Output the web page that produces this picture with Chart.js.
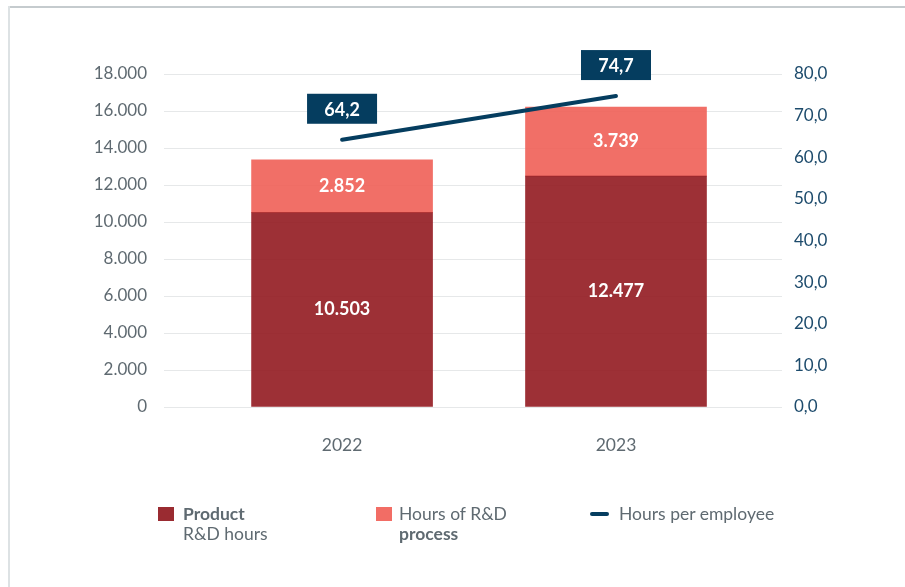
<!DOCTYPE html>
<html>
<head>
<meta charset="utf-8">
<script src="https://cdn.jsdelivr.net/npm/chart.js@4"></script>
<style>
  body { margin: 0; background: #fff; font-family: Lato, "Noto Sans", sans-serif; }
  #wrap { position: relative; width: 905px; height: 587px; overflow: hidden; }
  #frameTop { position: absolute; left: 8px; top: 6px; width: 897px; height: 2px; background: #c5cbce; }
  #frameLeft { position: absolute; left: 8px; top: 6px; width: 2px; height: 581px; background: #dde2e4; }
  canvas { position: absolute; left: 0; top: 0; }
  .leg { position: absolute; color: #5f6a71; font-size: 17.5px; line-height: 20px; }
  .sw { position: absolute; }
</style>
</head>
<body>
<div id="wrap">
  <div id="frameTop"></div>
  <div id="frameLeft"></div>
  <canvas id="rdChart" width="905" height="587"></canvas>

  <div class="sw" style="left:158px;top:507px;width:16px;height:14px;background:#9a2b31;"></div>
  <div class="leg" style="left:183px;top:504px;"><b>Product</b><br>R&amp;D hours</div>

  <div class="sw" style="left:376px;top:507px;width:16px;height:14px;background:#f26d65;"></div>
  <div class="leg" style="left:399px;top:504px;">Hours of R&amp;D<br><b>process</b></div>

  <div class="sw" style="left:590px;top:512px;width:19px;height:4px;border-radius:2px;background:#053d5f;"></div>
  <div class="leg" style="left:619px;top:504px;">Hours per employee</div>
</div>
<script>
// Data
const years = [2022, 2023];
const productHours = [10503, 12477];
const processHours = [2852, 3739];
const hoursPerEmployee = [64.2, 74.7];

const leftTicks = [0, 2000, 4000, 6000, 8000, 10000, 12000, 14000, 16000, 18000];
const rightTicks = [0, 10, 20, 30, 40, 50, 60, 70, 80];

// 10503 -> "10.503", 64.2 -> "64,2"
function fmtInt(v) {
    return Math.round(v).toString().replace(/\B(?=(\d{3})+(?!\d))/g, ".");
}
function fmtDec(v) {
    return v.toFixed(1).replace(".", ",");
}

// Draw values on bars and boxed labels over the line
const valueLabels = {
    id: 'valueLabels',
    afterDatasetsDraw(chart) {
        const ctx = chart.ctx;
        ctx.save();
        ctx.textAlign = 'center';
        ctx.textBaseline = 'middle';
        chart.data.datasets.forEach((ds, i) => {
            const meta = chart.getDatasetMeta(i);
            meta.data.forEach((el, j) => {
                const v = ds.data[j].y;
                if (ds.type === 'line') {
                    const bw = 70, bh = 30;
                    const cy = el.y - 31;
                    ctx.fillStyle = '#053d5f';
                    ctx.fillRect(el.x - bw / 2, cy - bh / 2, bw, bh);
                    ctx.fillStyle = '#fff';
                    ctx.font = 'bold 18px Lato, sans-serif';
                    ctx.fillText(fmtDec(v), el.x, cy + 1);
                } else {
                    ctx.fillStyle = '#fff';
                    ctx.font = 'bold 18px Lato, sans-serif';
                    ctx.fillText(fmtInt(v), el.x, (el.y + el.base) / 2);
                }
            });
        });
        ctx.restore();
    }
};

const ctx = document.getElementById("rdChart").getContext("2d");
new Chart(ctx, {
    data: {
        datasets: [
            {
                type: 'line',
                label: 'Hours per employee',
                data: years.map((x, i) => ({ x: x, y: hoursPerEmployee[i] })),
                yAxisID: 'y1',
                borderColor: '#053d5f',
                borderWidth: 4,
                borderCapStyle: 'round',
                pointRadius: 0,
                order: 0
            },
            {
                type: 'bar',
                label: 'Product R&D hours',
                data: years.map((x, i) => ({ x: x, y: productHours[i] })),
                backgroundColor: 'rgba(146, 25, 32, 0.9)',
                barThickness: 181,
                yAxisID: 'y',
                order: 1
            },
            {
                type: 'bar',
                label: 'Hours of R&D process',
                data: years.map((x, i) => ({ x: x, y: processHours[i] })),
                backgroundColor: 'rgba(240, 95, 87, 0.9)',
                barThickness: 181,
                yAxisID: 'y',
                order: 1
            }
        ]
    },
    options: {
        responsive: false,
        animation: false,
        layout: { padding: { top: 74, bottom: 0, left: 0, right: 0 } },
        plugins: {
            legend: { display: false },
            tooltip: { enabled: false }
        },
        scales: {
            x: {
                type: 'linear',
                stacked: true,
                offset: false,
                bounds: 'data',
                min: 2021.35,
                max: 2023.606,
                grid: { display: false, drawTicks: false, offset: false },
                border: { display: false },
                afterBuildTicks: (s) => { s.ticks = years.map(v => ({ value: v })); },
                afterFit: (s) => { s.height = 180; },
                ticks: {
                    padding: 28,
                    color: '#5f6a71',
                    font: { family: 'Lato', size: 17.5 },
                    callback: (v) => String(v)
                }
            },
            y: {
                position: 'left',
                stacked: true,
                min: 0,
                max: 18000,
                grid: { color: '#e6e8e9', drawTicks: false },
                border: { display: false },
                afterBuildTicks: (s) => { s.ticks = leftTicks.map(v => ({ value: v })); },
                afterFit: (s) => { s.width = 164; },
                ticks: {
                    padding: 17,
                    color: '#5f6a71',
                    font: { family: 'Lato', size: 17 },
                    callback: (v) => fmtInt(v)
                }
            },
            y1: {
                position: 'right',
                min: 0,
                max: 80,
                grid: { display: false, drawTicks: false },
                border: { display: false },
                afterBuildTicks: (s) => { s.ticks = rightTicks.map(v => ({ value: v })); },
                afterFit: (s) => { s.width = 123; },
                ticks: {
                    padding: 12,
                    color: '#1d4b6c',
                    font: { family: 'Lato', size: 17 },
                    callback: (v) => fmtDec(v)
                }
            }
        }
    },
    plugins: [valueLabels]
});
</script>
</body>
</html>
